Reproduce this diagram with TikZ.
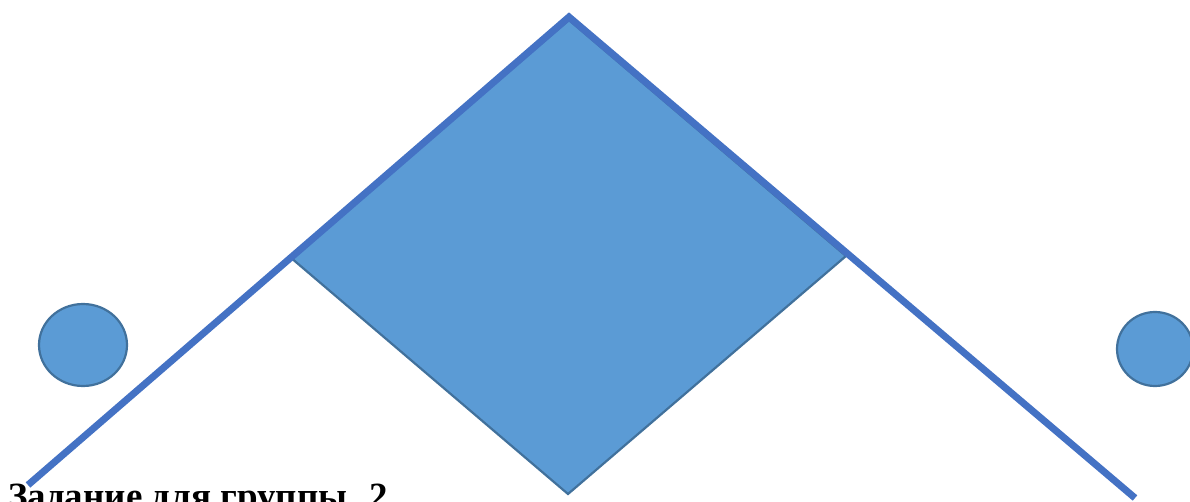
\documentclass[tikz,border=0pt]{standalone}
\usepackage{fontspec}
\newfontfamily\ruserif{Liberation Serif}
\definecolor{shapeFill}{HTML}{5B9BD5}
\definecolor{shapeEdge}{HTML}{41719C}
\definecolor{roofBlue}{HTML}{4472C4}
\begin{document}
\begin{tikzpicture}[x=1pt, y=-1pt,
    blob/.style={fill=shapeFill, draw=shapeEdge, line width=2.2pt},
    roof/.style={draw=roofBlue, line width=7pt, line join=miter}
  ]
  \useasboundingbox (0,0) rectangle (1190,502);
  \clip (0,0) rectangle (1190,502);
  % corners of the roof
  \coordinate (roofL) at (28,485);
  \coordinate (roofT) at (569,17);
  \coordinate (roofR) at (1135,498);
  % middle square standing on its corner
  \draw[blob] (569,20) -- (846,256) -- (568,494) -- (290,257) -- cycle;
  \draw[roof] (roofL) -- (roofT) -- (roofR);

  % two balls
  \draw[blob] (83,345) ellipse [x radius=44, y radius=41];
  \draw[blob] (1155,349) ellipse [x radius=38, y radius=37];

  % caption
  \node[anchor=base west, inner sep=0pt,
        font=\ruserif\bfseries\fontsize{37}{44}\selectfont] (title)
        at (8,508) {Задание для группы\hspace{13pt} 2};
\end{tikzpicture}
\end{document}
